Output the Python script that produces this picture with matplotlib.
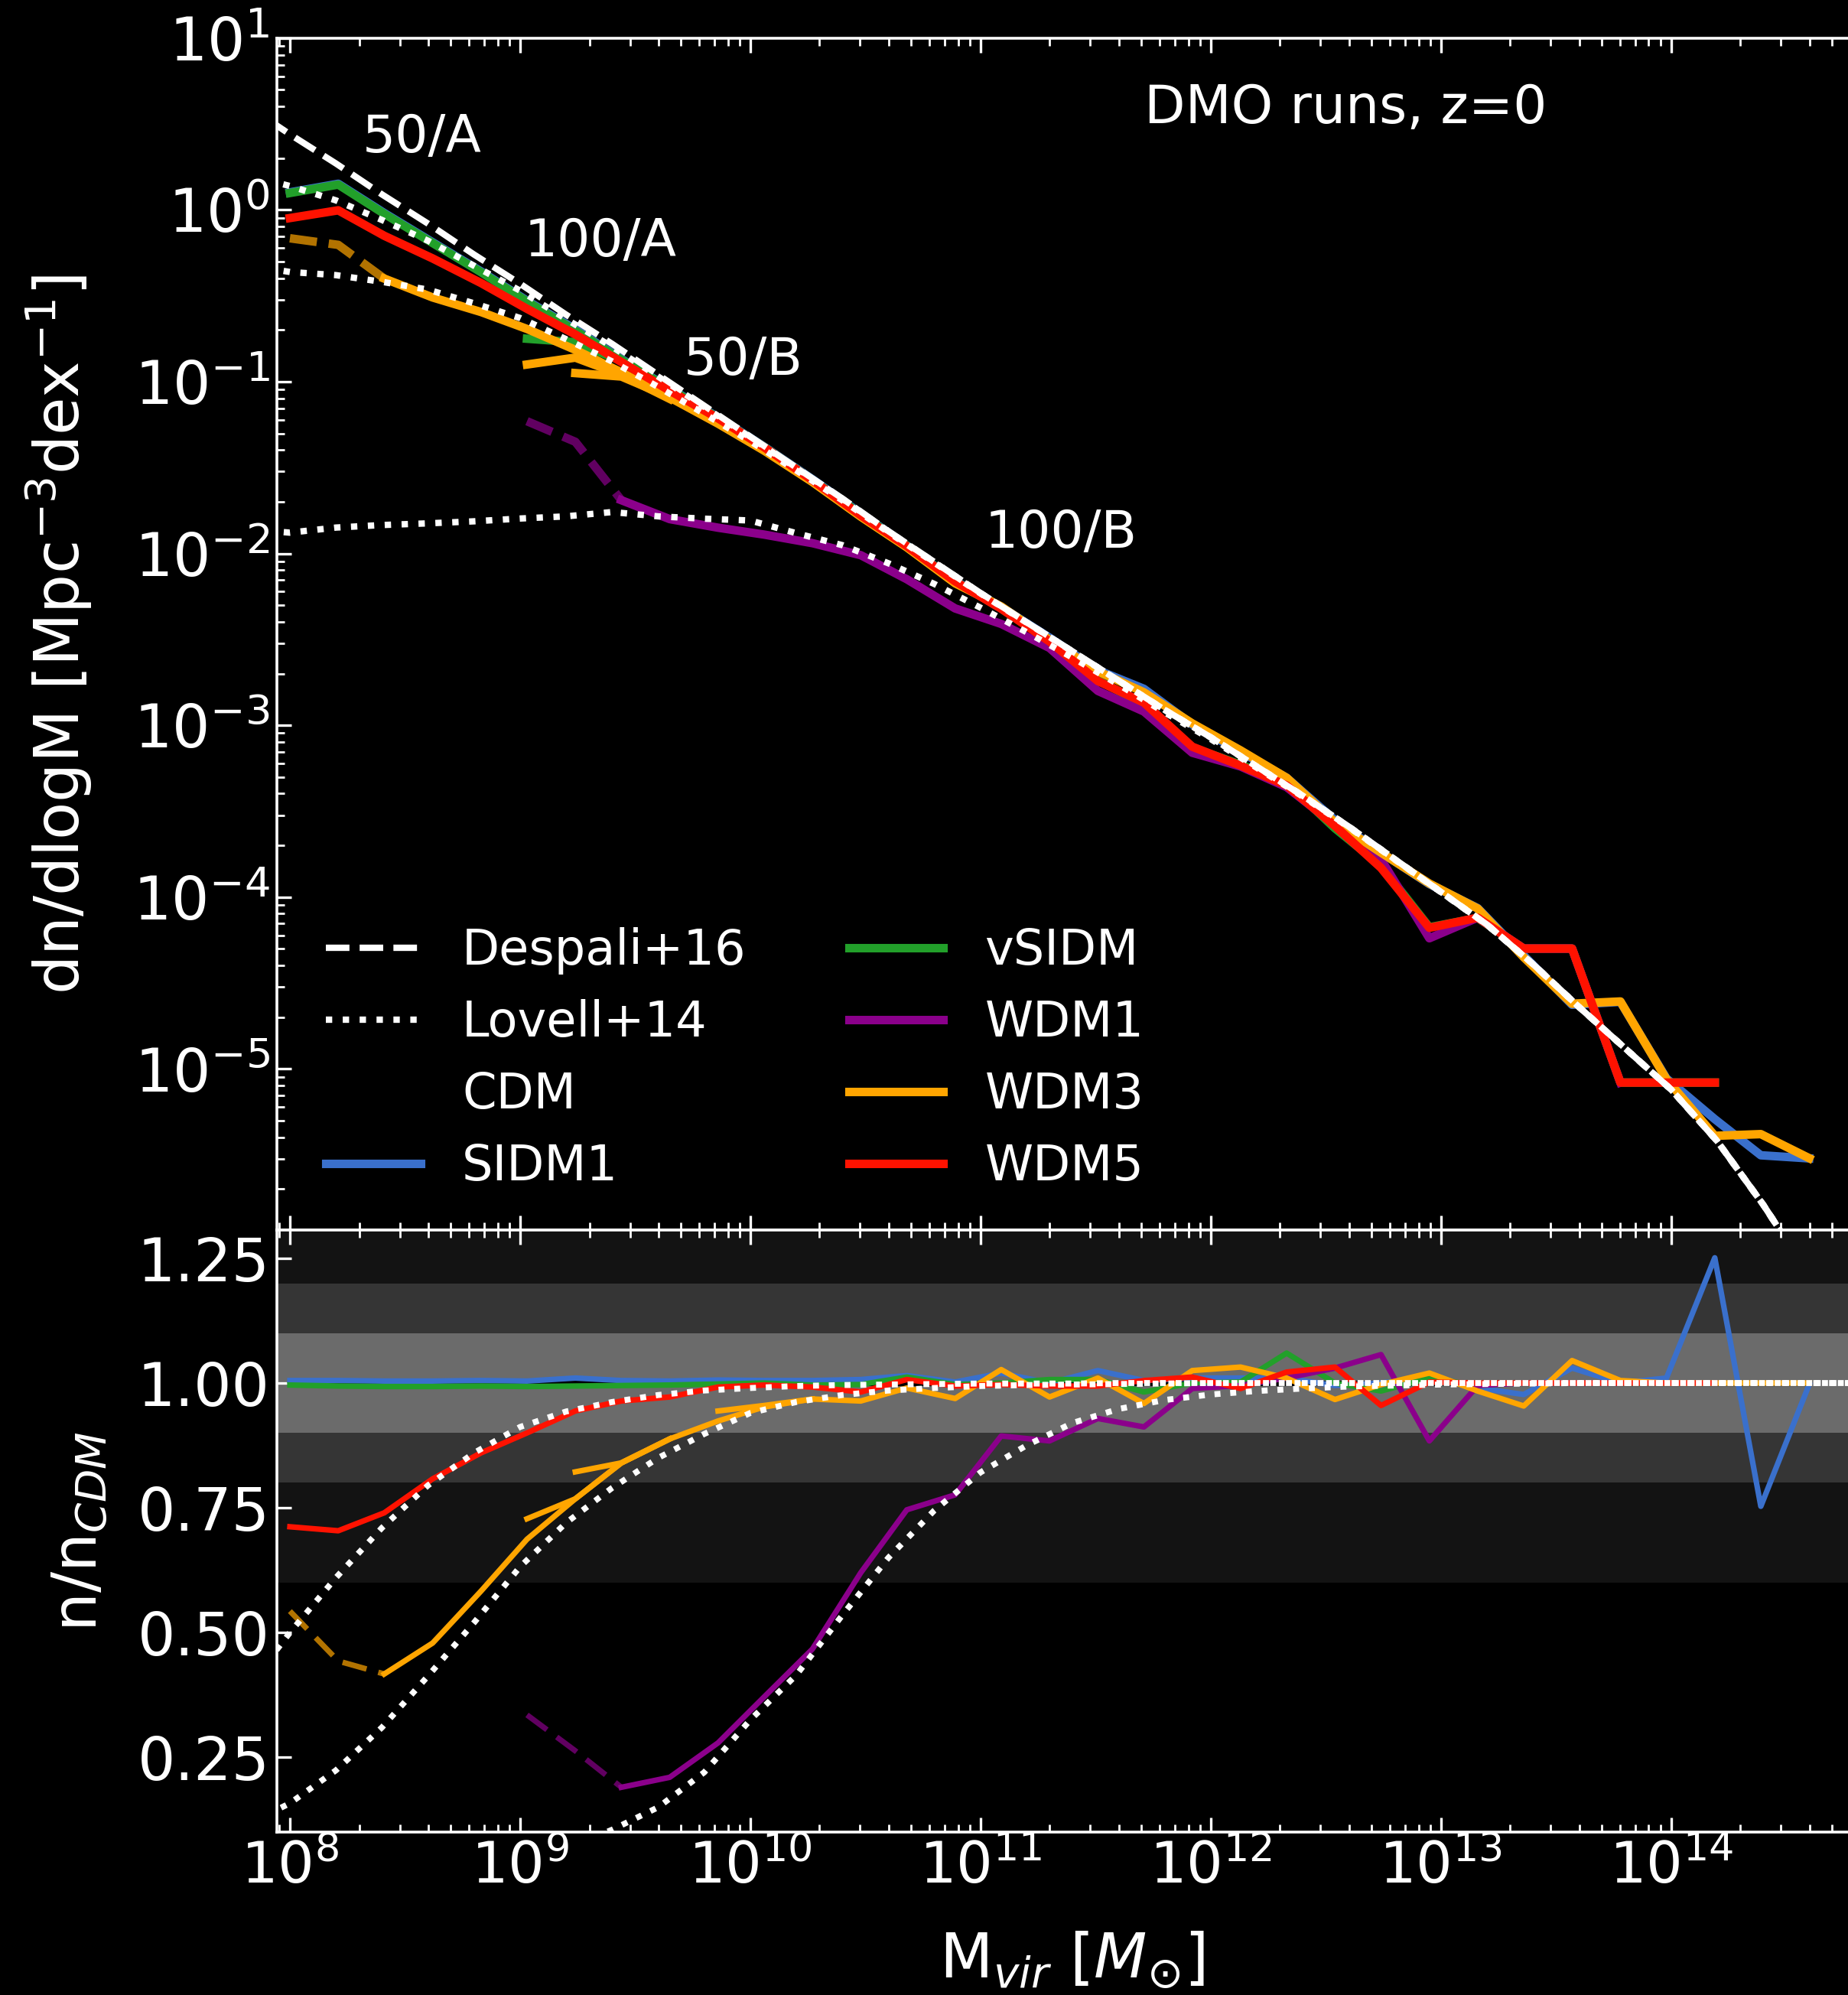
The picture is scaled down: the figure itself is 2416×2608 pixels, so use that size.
import numpy as np
import matplotlib.pyplot as plt
from matplotlib.ticker import NullFormatter

plt.style.use('dark_background')
plt.rcParams['font.family'] = ['DejaVu Sans']
plt.rcParams['font.size'] = 24
plt.rcParams['mathtext.default'] = 'it'

# mass bins of the simulation curves (log10 M)
logm_bins = [8.00, 8.21, 8.41, 8.62, 8.83, 9.03, 9.24, 9.44, 9.65, 9.86, 10.06,
             10.27, 10.48, 10.68, 10.89, 11.09, 11.30, 11.51, 11.71, 11.92, 12.13,
             12.33, 12.54, 12.74, 12.95, 13.16, 13.36, 13.57, 13.78, 13.98, 14.19,
             14.39, 14.60]

# reference CDM mass functions (log10 dn/dlogM) of the two box sizes
cdm50_logn = [0.10, 0.15, -0.02, -0.19, -0.36, -0.53, -0.70, -0.87, -1.04, -1.21, -1.38,
              -1.57, -1.77, -1.96, -2.16, -2.32, -2.51, -2.74, -2.87, -3.13, -3.23,
              -3.36, -3.60, -3.81, -4.18, -4.12, -4.30, -4.30, -5.08, -5.08, -5.08]
cdm100_logn = [0.10, 0.15, -0.02, -0.19, -0.36, -0.53, -0.70, -0.87, -1.04, -1.21, -1.38,
               -1.57, -1.77, -1.96, -2.16, -2.32, -2.49, -2.69, -2.79, -3.00, -3.16,
               -3.31, -3.55, -3.74, -3.93, -4.06, -4.33, -4.64, -4.61, -5.06, -5.39,
               -5.38, -5.52]

# n / n_CDM for each model
ratio_cdm = [1.0] * 33
ratio_sidm1 = [1.005, 1.005, 1.004, 1.004, 1.005, 1.004, 1.010, 1.005, 1.004, 1.006, 1.005,
               1.005, 1.007, 1.015, 1.002, 1.020, 1.000, 1.025, 1.005, 1.010, 1.010,
               1.010, 0.995, 1.000, 1.012, 0.990, 0.977, 1.030, 1.000, 1.010, 1.251,
               0.753, 0.997]
ratio_vsidm = [0.996, 0.994, 0.993, 0.993, 0.994, 0.993, 0.994, 0.995, 0.996, 0.998, 1.000,
               0.996, 0.997, 1.012, 0.997, 1.000, 1.007, 1.007, 0.982, 1.000, 1.002,
               1.060, 1.000, 0.984, 1.010, 0.995, 1.000, 1.000, 1.000, 1.000, 1.000]
ratio_wdm1 = [0.335, 0.263, 0.190, 0.210, 0.279, 0.371, 0.467, 0.620, 0.746, 0.776,
              0.894, 0.884, 0.929, 0.912, 0.989, 0.995, 1.010, 1.030, 1.057, 0.884,
              0.995, 1.000, 1.000, 1.000]          # starts at bin 5
ratio_wdm3 = [0.543, 0.443, 0.417, 0.479, 0.583, 0.687, 0.768, 0.840, 0.888, 0.924, 0.952,
              0.968, 0.964, 0.990, 0.969, 1.027, 0.972, 1.010, 0.959, 1.025, 1.032,
              1.010, 0.967, 0.997, 1.020, 0.984, 0.954, 1.045, 1.005, 1.000, 1.000,
              1.000, 1.000]
ratio_wdm5 = [0.712, 0.704, 0.740, 0.808, 0.860, 0.900, 0.944, 0.964, 0.972, 0.992, 0.996,
              0.992, 0.982, 1.007, 0.994, 0.997, 0.994, 0.994, 1.005, 1.012, 0.989,
              1.022, 1.032, 0.955, 1.002, 1.000, 1.000, 1.000, 1.000, 1.000, 1.000]

# WDM1 mass function read directly (starts at bin 5)
wdm1_logn = [-1.23, -1.35, -1.69, -1.80, -1.85, -1.89, -1.94, -2.01, -2.15, -2.32,
             -2.41, -2.55, -2.80, -2.92, -3.16, -3.24, -3.36, -3.58, -3.78, -4.24,
             -4.12, -4.30, -4.30, -5.08]

# extra low-mass pieces from the other boxes
wdm3_b_ratio = [0.728, 0.768, 0.840, 0.888]   # bins 5-8
wdm3_b_logn = [-0.90, -0.86, -0.96, -1.10]
wdm3_c_ratio = [0.822, 0.840, 0.888]          # bins 6-8
wdm3_c_logn = [-0.95, -0.97, -1.09]
wdm3_d_ratio = [0.944, 0.955, 0.968]          # bins 9-11
vsidm_b_logn = [-0.75, -0.77, -0.88]          # bins 5-7

# analytic curves
theory_logm = [7.9, 8.0, 8.2, 8.4, 8.6, 8.8, 9.0, 9.2, 9.4, 9.6, 9.8, 10.0, 10.2, 10.4,
               10.6, 10.8, 11.0, 11.2, 11.4, 11.6, 11.8, 12.0, 12.2, 12.4, 12.6, 12.8,
               13.0, 13.2, 13.4, 13.6, 13.8, 14.0, 14.2, 14.4, 14.6, 14.8]
despali_logn = [0.53, 0.44, 0.27, 0.09, -0.08, -0.26, -0.43, -0.61, -0.78, -0.96, -1.14,
                -1.32, -1.50, -1.68, -1.87, -2.05, -2.23, -2.40, -2.57, -2.74, -2.91,
                -3.07, -3.24, -3.41, -3.59, -3.78, -3.97, -4.16, -4.39, -4.64, -4.88,
                -5.12, -5.42, -5.79, -6.20, -6.70]
lovell_wdm5 = [0.44, 0.50, 0.61, 0.71, 0.795, 0.86, 0.912, 0.943, 0.962, 0.976, 0.985,
               0.990, 0.994, 0.996, 0.997, 0.998, 0.999, 0.999, 0.999, 1.0, 1.0, 1.0,
               1.0, 1.0, 1.0, 1.0, 1.0, 1.0, 1.0, 1.0, 1.0, 1.0, 1.0, 1.0, 1.0, 1.0]
lovell_wdm3 = [0.135, 0.158, 0.224, 0.31, 0.413, 0.52, 0.632, 0.72, 0.79, 0.85, 0.898,
               0.94, 0.962, 0.976, 0.985, 0.99, 0.994, 0.996, 0.997, 0.998, 0.999, 1.0,
               1.0, 1.0, 1.0, 1.0, 1.0, 1.0, 1.0, 1.0, 1.0, 1.0, 1.0, 1.0, 1.0, 1.0]
lovell_wdm1 = [0.0040, 0.0048, 0.0076, 0.0119, 0.018, 0.028, 0.043, 0.067, 0.105, 0.15,
               0.22, 0.325, 0.415, 0.535, 0.65, 0.745, 0.821, 0.875, 0.92, 0.948, 0.966,
               0.977, 0.984, 0.989, 0.993, 0.995, 0.997, 0.998, 0.999, 1.0, 1.0, 1.0,
               1.0, 1.0, 1.0, 1.0]

text_labels = ['50/A', '100/A', '50/B', '100/B']
text_logm = [8.315, 9.02, 9.71, 11.02]
text_logn = [0.42, -0.185, -0.874, -1.88]

c_sidm1 = '#3a70cc'
c_vsidm = '#22a02a'
c_wdm1 = '#8b008b'
c_wdm3 = '#ffa500'
c_wdm5 = '#ff1200'

m = 10 ** np.array(logm_bins)
mt = 10 ** np.array(theory_logm)
despali = 10 ** np.array(despali_logn)
cdm50 = 10 ** np.array(cdm50_logn)
cdm100 = 10 ** np.array(cdm100_logn)

fig = plt.figure(figsize=(12.08, 13.04), dpi=200)
fig.patch.set_facecolor('black')
ax1 = fig.add_axes([0.1500, 0.3833, 0.8600, 0.5976])
ax2 = fig.add_axes([0.1500, 0.0816, 0.8600, 0.3017], sharex=ax1)

lw_top = 4.0
lw_bot = 2.6
dash_seg = (0, (3.2, 1.4))

# ---------------- top panel ----------------
h_desp, = ax1.plot(mt, despali, ls='--', color='white', lw=3, zorder=5)
for lov in [lovell_wdm5, lovell_wdm3, lovell_wdm1]:
    h_lov, = ax1.plot(mt, despali * np.array(lov), ls=':', color='white', lw=3, zorder=5)

h_cdm, = ax1.plot(m, cdm100, color='black', lw=lw_top, zorder=2)
h_sidm1, = ax1.plot(m, cdm100 * np.array(ratio_sidm1), color=c_sidm1, lw=lw_top, zorder=2)
h_vsidm, = ax1.plot(m[:31], cdm50 * np.array(ratio_vsidm), color=c_vsidm, lw=lw_top, zorder=2)
ax1.plot(m[5:8], 10 ** np.array(vsidm_b_logn), color=c_vsidm, lw=lw_top, zorder=2)

wdm1_top = 10 ** np.array(wdm1_logn)
ax1.plot(m[5:8], wdm1_top[:3], color=c_wdm1, lw=lw_top, ls=dash_seg, alpha=0.7, zorder=2)
h_wdm1, = ax1.plot(m[7:29], wdm1_top[2:], color=c_wdm1, lw=lw_top, zorder=2)

wdm3_top = cdm100 * np.array(ratio_wdm3)
ax1.plot(m[:3], wdm3_top[:3], color=c_wdm3, lw=lw_top, ls=dash_seg, alpha=0.7, zorder=3)
h_wdm3, = ax1.plot(m[2:], wdm3_top[2:], color=c_wdm3, lw=lw_top, zorder=3)
ax1.plot(m[5:9], 10 ** np.array(wdm3_b_logn), color=c_wdm3, lw=lw_top, zorder=3)
ax1.plot(m[6:9], 10 ** np.array(wdm3_c_logn), color=c_wdm3, lw=lw_top, zorder=3)

h_wdm5, = ax1.plot(m[:31], cdm50 * np.array(ratio_wdm5), color=c_wdm5, lw=lw_top, zorder=4)

for lab, lx, ly in zip(text_labels, text_logm, text_logn):
    ax1.text(10 ** lx, 10 ** ly, lab, ha='left', va='center', color='white', fontsize=24.5)
ax1.text(10 ** 11.71, 10 ** 0.593, 'DMO runs, z=0', ha='left', va='center',
         color='white', fontsize=25)

ax1.set_xscale('log')
ax1.set_yscale('log')
ax1.set_xlim(10 ** 7.9448, 10 ** 14.849)
ax1.set_ylim(10 ** -5.94, 10)
ax1.set_yticks([1e-5, 1e-4, 1e-3, 1e-2, 1e-1, 1e0, 1e1])
ax1.yaxis.set_minor_formatter(NullFormatter())
ax1.set_ylabel(r'dn/dlogM [Mpc$^{-3}$dex$^{-1}$]', fontsize=29)
ax1.yaxis.set_label_coords(-0.115, 0.5)
ax1.tick_params(labelbottom=False)

handles = [h_desp, h_lov, h_cdm, h_sidm1, h_vsidm, h_wdm1, h_wdm3, h_wdm5]
labels = ['Despali+16', 'Lovell+14', 'CDM', 'SIDM1', 'vSIDM', 'WDM1', 'WDM3', 'WDM5']
ax1.legend(handles, labels, ncol=2, frameon=False, loc='lower left',
           bbox_to_anchor=(0.0185, 0.017), borderaxespad=0, handlelength=1.93,
           handletextpad=0.85, columnspacing=2.1, labelspacing=0.5, fontsize=23)

# ---------------- bottom panel ----------------
ax2.axhspan(0.6, 1.4, color='#131313', lw=0, zorder=0)
ax2.axhspan(0.8, 1.2, color='#353535', lw=0, zorder=0)
ax2.axhspan(0.9, 1.1, color='#6b6b6b', lw=0, zorder=0)

for lov in [lovell_wdm5, lovell_wdm3, lovell_wdm1]:
    ax2.plot(mt, lov, ls=':', color='white', lw=2.8, zorder=5)

ax2.plot(m, ratio_cdm, color='black', lw=lw_bot, zorder=2)
ax2.plot(m, ratio_sidm1, color=c_sidm1, lw=lw_bot, zorder=2)
ax2.plot(m[:31], ratio_vsidm, color=c_vsidm, lw=lw_bot, zorder=2)
ax2.plot(m[5:8], ratio_wdm1[:3], color=c_wdm1, lw=lw_bot, ls=(0, (4.5, 2.2)), alpha=0.7, zorder=2)
ax2.plot(m[7:29], ratio_wdm1[2:], color=c_wdm1, lw=lw_bot, zorder=2)
ax2.plot(m[:3], ratio_wdm3[:3], color=c_wdm3, lw=lw_bot, ls=(0, (4.5, 2.2)), alpha=0.7, zorder=3)
ax2.plot(m[2:], ratio_wdm3[2:], color=c_wdm3, lw=lw_bot, zorder=3)
ax2.plot(m[5:9], wdm3_b_ratio, color=c_wdm3, lw=lw_bot, zorder=3)
ax2.plot(m[6:9], wdm3_c_ratio, color=c_wdm3, lw=lw_bot, zorder=3)
ax2.plot(m[9:12], wdm3_d_ratio, color=c_wdm3, lw=lw_bot, zorder=3)
ax2.plot(m[:31], ratio_wdm5, color=c_wdm5, lw=lw_bot, zorder=4)

ax2.set_ylim(0.10, 1.306)
ax2.set_yticks([0.25, 0.50, 0.75, 1.00, 1.25])
ax2.set_yticklabels(['0.25', '0.50', '0.75', '1.00', '1.25'])
ax2.set_xticks([1e8, 1e9, 1e10, 1e11, 1e12, 1e13, 1e14])
ax2.xaxis.set_minor_formatter(NullFormatter())
ax2.set_ylabel(r'n/n$_{CDM}$', fontsize=29)
ax2.yaxis.set_label_coords(-0.105, 0.5)
ax2.set_xlabel(r'M$_{vir}$ [$M_{\odot}$]', fontsize=29)
ax2.xaxis.set_label_coords(0.5, -0.163)

for ax in (ax1, ax2):
    ax.set_facecolor('black')
    for s in ax.spines.values():
        s.set_color('white')
        s.set_linewidth(1.3)
    ax.tick_params(which='both', direction='in', top=True, right=True, colors='white')
    ax.tick_params(which='major', length=7, width=1.2)
    ax.tick_params(which='minor', length=3.5, width=1.0)
    ax.tick_params(axis='y', which='major', labelsize=28)
    ax.tick_params(axis='x', which='major', labelsize=27)
ax2.tick_params(axis='y', which='minor', left=False, right=False)

fig.savefig('out.png', dpi=200, facecolor='black')
